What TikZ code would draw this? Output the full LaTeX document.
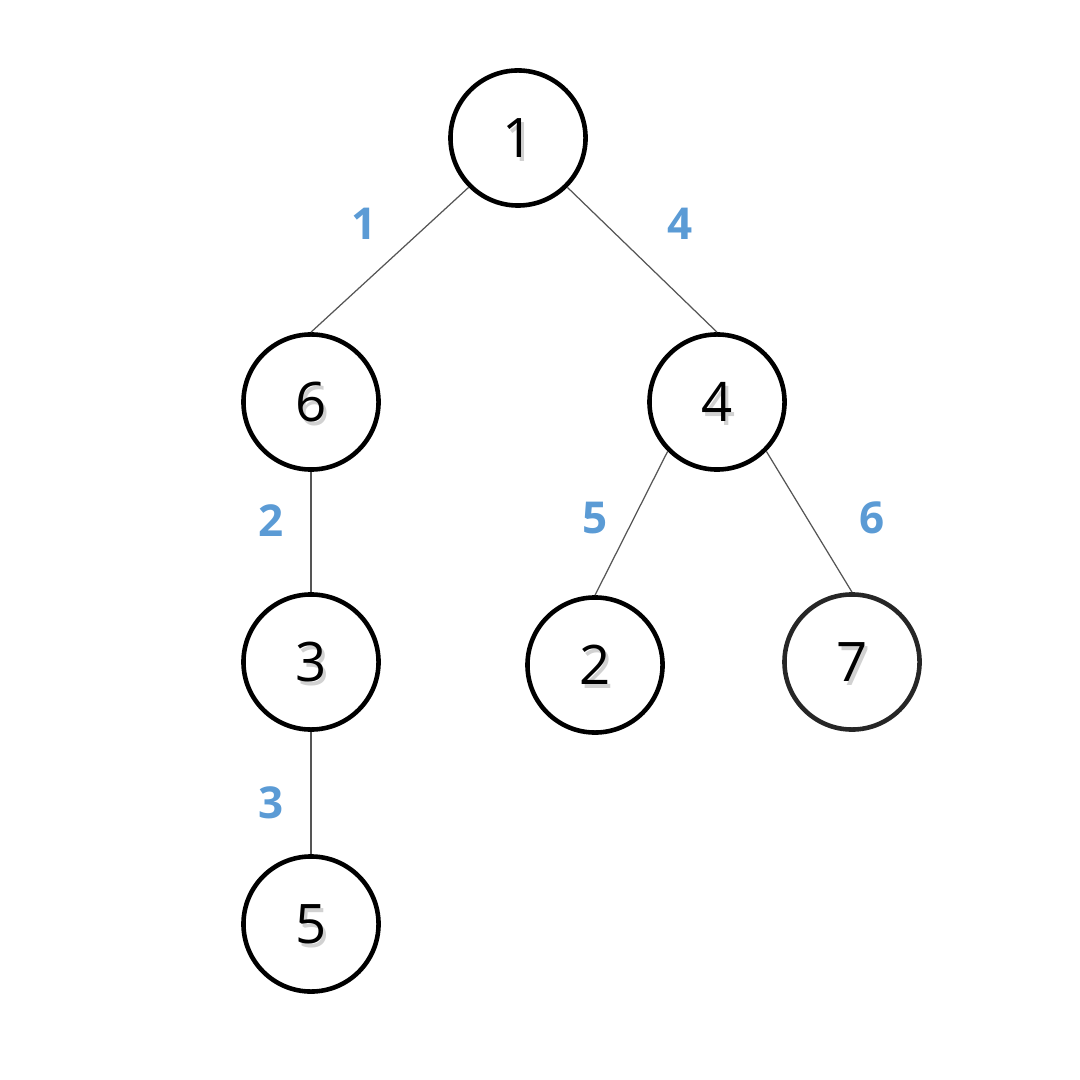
\documentclass[tikz,border=0pt]{standalone}
\usepackage{fontspec}
\setmainfont{Open Sans}
\definecolor{lblue}{HTML}{5B9BD5}
\definecolor{edgegray}{HTML}{555555}
\tikzset{
  vnode/.style={circle, draw=black, line width=1.3pt, minimum size=1.35cm, inner sep=0pt, fill=white},
  vtext/.style={font=\fontsize{15.5}{15.5}\selectfont, text=black},
  vshadow/.style={font=\fontsize{15.5}{15.5}\selectfont, text=black!18},
  elabel/.style={font=\fontsize{12.5}{12.5}\selectfont\bfseries, text=lblue},
  edge/.style={draw=edgegray, line width=0.35pt}
}
\begin{document}
\begin{tikzpicture}[x=0.01cm,y=-0.01cm]
\useasboundingbox (0,0) rectangle (1080,1080);
% nodes
\node[vnode] (n1) at (518,138) {};
\node[vnode] (n6) at (311,402) {};
\node[vnode] (n4) at (717,402) {};
\node[vnode] (n3) at (311,662) {};
\node[vnode] (n2) at (595,665) {};
\node[vnode, draw=black!85] (n7) at (852,662) {};
\node[vnode] (n5) at (311,924) {};
% edges
\draw[edge] (n1.south west) -- (n6.north);
\draw[edge] (n1.south east) -- (n4.north);
\draw[edge] (n6.south) -- (n3.north);
\draw[edge] (n4.south west) -- (n2.north);
\draw[edge] (n4.south east) -- (n7.north);
\draw[edge] (n3.south) -- (n5.north);
% node texts with soft shadow
\foreach \n/\t in {n1/1,n6/6,n4/4,n3/3,n2/2,n7/7,n5/5}{
  \node[vshadow] (s\n) at ([xshift=0.035cm,yshift=-0.04cm]\n.center) {\t};
  \node[vtext] (t\n) at (\n.center) {\t};
}
% edge labels
\node[elabel] (l1) at (364,224) {1};
\node[elabel] (l4) at (680,224) {4};
\node[elabel] (l2) at (271,521) {2};
\node[elabel] (l5) at (595,518) {5};
\node[elabel] (l6) at (872,518) {6};
\node[elabel] (l3) at (271,803) {3};
\end{tikzpicture}
\end{document}
